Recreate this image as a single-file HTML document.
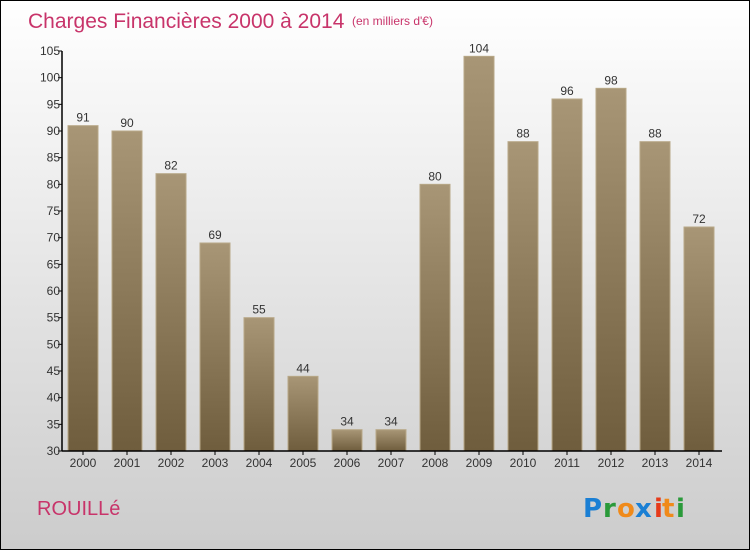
<!DOCTYPE html>
<html><head><meta charset="utf-8"><style>
html,body{margin:0;padding:0}
body{width:750px;height:550px;overflow:hidden;font-family:"Liberation Sans",sans-serif}
#wrap{position:relative;width:748px;height:548px;border:1px solid #000;background:linear-gradient(#fff,#ccc)}
svg{position:absolute;left:0;top:0}
</style></head><body>
<div id="wrap">
<svg id="chart" width="750" height="550">
<defs><linearGradient id="bg" x1="0" y1="0" x2="0" y2="1"><stop offset="0" stop-color="#a89676"/><stop offset="1" stop-color="#6f5d3d"/></linearGradient></defs>
<text x="27" y="27" font-size="21" fill="#c8346a">Charges Financières 2000 à 2014</text>
<text x="351" y="24" font-size="12" fill="#c8346a">(en milliers d'€)</text>
<text x="36" y="514" font-size="20" fill="#c8346a">ROUILLé</text>
<g font-size="26" font-family="'DejaVu Sans',sans-serif" font-weight="bold">
<text x="582" y="516" fill="#1a7fd4">P</text><text x="602" y="516" fill="#2a9a3a">r</text><text x="616" y="516" fill="#f08a1a">o</text><text x="634" y="516" fill="#1a7fd4">x</text><text x="653" y="516" fill="#e63a1a">i</text><text x="661" y="516" fill="#f08a1a">t</text><text x="675" y="516" fill="#2a9a3a">i</text>
</g>
</svg>
</div>
<script>
const years=["2000","2001","2002","2003","2004","2005","2006","2007","2008","2009","2010","2011","2012","2013","2014"];
const values=[91,90,82,69,55,44,34,34,80,104,88,96,98,88,72];
const ticks=[30,35,40,45,50,55,60,65,70,75,80,85,90,95,100,105];
const svg=document.getElementById('chart');
const NS='http://www.w3.org/2000/svg';
const x0=61,x1=721,yb=450,yt=50,vmin=30,vmax=105;
const y=v=>yb-(v-vmin)*(yb-yt)/(vmax-vmin);
const band=(x1-x0)/years.length;
const xb=i=>x0+6+band*i;
function mk(t,a){const e=document.createElementNS(NS,t);for(const k in a)e.setAttribute(k,a[k]);svg.appendChild(e);return e;}
values.forEach((v,i)=>{
 const r=mk('rect',{x:xb(i),y:y(v),width:30,height:yb-y(v),fill:'url(#bg)',stroke:'#b8a888','stroke-width':1});
 
 
 const t=mk('text',{x:xb(i)+15,y:y(v)-4,'text-anchor':'middle','font-size':12,fill:'#333'});
 t.textContent=v;
 
 
 const l=mk('text',{x:xb(i)+15,y:466,'text-anchor':'middle','font-size':12,fill:'#333'});
 l.textContent=years[i];
 
 
 const tk=mk('line',{x1:xb(i)+15,x2:xb(i)+15,y1:yb,y2:yb+4,stroke:'#000'});
 
 
});
ticks.forEach(v=>{
 const l=mk('line',{x1:x0-4,x2:x0,y1:y(v),y2:y(v),stroke:'#000'});
 
 
 const t=mk('text',{x:x0-2,y:y(v)+4,'text-anchor':'end','font-size':12,fill:'#333'});
 t.textContent=v;
 
 
});
const ya=mk('line',{x1:x0,x2:x0,y1:yt,y2:yb,stroke:'#000','stroke-width':1.5});


const xa=mk('line',{x1:x0,x2:x1,y1:yb,y2:yb,stroke:'#000','stroke-width':1.5});


</script>
</body></html>
